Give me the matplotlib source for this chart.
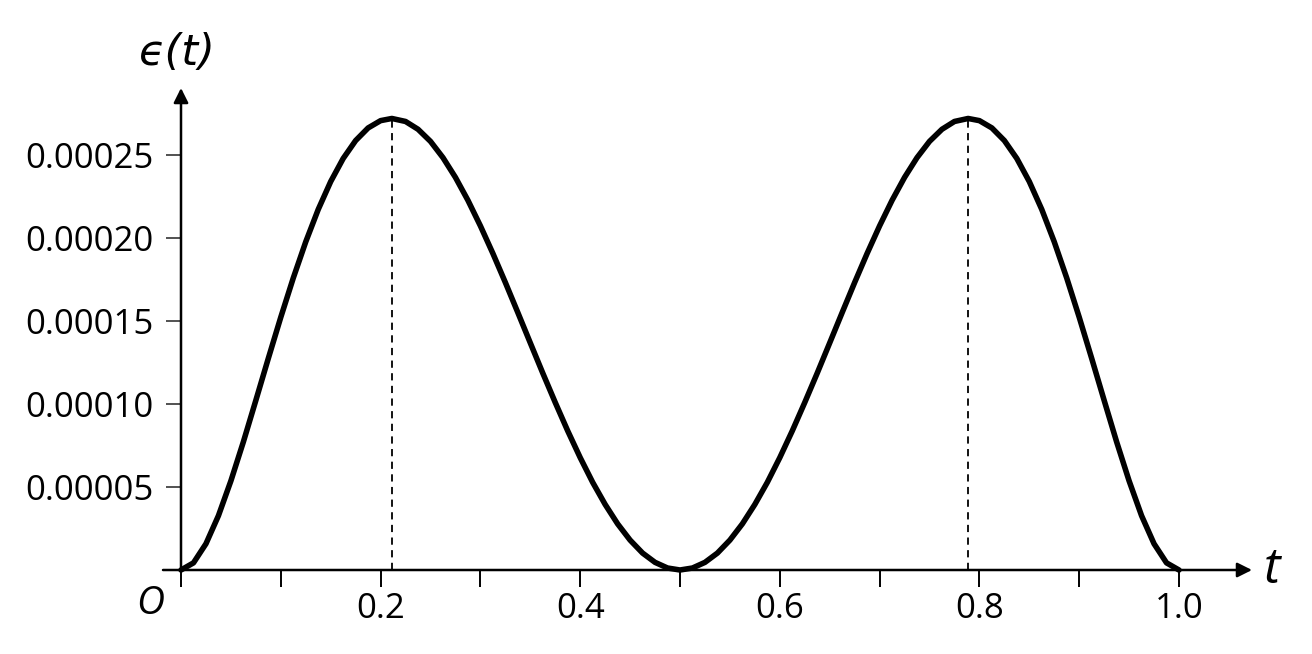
import matplotlib
matplotlib.use('Agg')
import matplotlib.pyplot as plt

# values
t = [0.0, 0.0125, 0.025, 0.0375, 0.05, 0.0625, 0.075, 0.0875, 0.1, 0.1125,
     0.125, 0.1375, 0.15, 0.1625, 0.175, 0.1875, 0.2, 0.2113, 0.225, 0.2375,
     0.25, 0.2625, 0.275, 0.2875, 0.3, 0.3125, 0.325, 0.3375, 0.35, 0.3625,
     0.375, 0.3875, 0.4, 0.4125, 0.425, 0.4375, 0.45, 0.4625, 0.475, 0.4875, 0.5,
     0.5125, 0.525, 0.5375, 0.55, 0.5625, 0.575, 0.5875, 0.6, 0.6125, 0.625,
     0.6375, 0.65, 0.6625, 0.675, 0.6875, 0.7, 0.7125, 0.725, 0.7375, 0.75,
     0.7625, 0.775, 0.7887, 0.8, 0.8125, 0.825, 0.8375, 0.85, 0.8625, 0.875,
     0.8875, 0.9, 0.9125, 0.925, 0.9375, 0.95, 0.9625, 0.975, 0.9875, 1.0]
eps = [0.0, 0.0000043, 0.0000158, 0.0000327, 0.0000537, 0.0000772, 0.0001022,
       0.0001275, 0.0001523, 0.0001759, 0.0001977, 0.0002172, 0.0002340, 0.0002479,
       0.0002587, 0.0002663, 0.0002707, 0.0002720, 0.0002702, 0.0002655, 0.0002582,
       0.0002484, 0.0002365, 0.0002227, 0.0002073, 0.0001907, 0.0001732, 0.0001551,
       0.0001368, 0.0001186, 0.0001009, 0.0000838, 0.0000677, 0.0000528, 0.0000395,
       0.0000278, 0.0000180, 0.0000102, 0.0000046, 0.0000012, 0.0,
       0.0000012, 0.0000046, 0.0000102, 0.0000180, 0.0000278, 0.0000395, 0.0000528,
       0.0000677, 0.0000838, 0.0001009, 0.0001186, 0.0001368, 0.0001551, 0.0001732,
       0.0001907, 0.0002073, 0.0002227, 0.0002365, 0.0002484, 0.0002582, 0.0002655,
       0.0002702, 0.0002720, 0.0002707, 0.0002663, 0.0002587, 0.0002479, 0.0002340,
       0.0002172, 0.0001977, 0.0001759, 0.0001523, 0.0001275, 0.0001022, 0.0000772,
       0.0000537, 0.0000327, 0.0000158, 0.0000043, 0.0]

peak_t = [0.2113, 0.7887]
peak_eps = [0.000272, 0.000272]

x_ticks = [0.0, 0.1, 0.2, 0.3, 0.4, 0.5, 0.6, 0.7, 0.8, 0.9, 1.0]
x_labels = ['', '', '0.2', '', '0.4', '', '0.6', '', '0.8', '', '1.0']
y_ticks = [0.00005, 0.00010, 0.00015, 0.00020, 0.00025]
y_labels = ['0.00005', '0.00010', '0.00015', '0.00020', '0.00025']

plt.rcParams['font.family'] = ['Open Sans', 'DejaVu Sans']

W, H = 1312, 654
fig = plt.figure(figsize=(W / 100, H / 100), dpi=100)
# axes from the origin (181, 570) to the arrow tips (1252, 88), in pixels
ax = fig.add_axes([181 / W, (H - 570) / H, (1252 - 181) / W, (570 - 88) / H])
ax.set_xlim(0, 1071 / 998)
ax.set_ylim(0, 482 / 415 * 0.00025)
for s in ax.spines.values():
    s.set_visible(False)

ax.plot(t, eps, color='black', lw=4.0, clip_on=False, solid_capstyle='round',
        solid_joinstyle='round', zorder=3)
ax.vlines(peak_t, 0, peak_eps, colors='black', linestyles=(0, (4, 3)), lw=1.3)

# axes with arrows
arrow = dict(arrowstyle='-|>', color='black', lw=1.8, mutation_scale=22, shrinkA=0, shrinkB=0)
ax.annotate('', xy=(1, 0), xytext=(-18 / 1071, 0), xycoords='axes fraction', arrowprops=arrow)
ax.annotate('', xy=(0, 1), xytext=(0, 0), xycoords='axes fraction', arrowprops=arrow)

ax.set_xticks(x_ticks)
ax.set_xticklabels(x_labels)
ax.set_yticks(y_ticks)
ax.set_yticklabels(y_labels)
ax.tick_params(axis='x', direction='out', length=12, width=1.4, pad=4, labelsize=25)
ax.tick_params(axis='y', direction='out', length=11, width=1.2, pad=9, labelsize=25, color='#333333')

ax.annotate('O', xy=(0, 0), xytext=(-31, -34), textcoords='offset pixels',
            ha='center', va='center', fontsize=28, style='italic')
ax.annotate('t', xy=(1, 0), xycoords='axes fraction', xytext=(20, 0), textcoords='offset pixels',
            ha='center', va='center', fontsize=36, style='italic')
ax.annotate('ϵ(t)', xy=(0, 1), xycoords='axes fraction', xytext=(-4, 35), textcoords='offset pixels',
            ha='center', va='center', fontsize=31, style='italic',
            family=['DejaVu Sans', 'Open Sans'])

fig.savefig('out.png', dpi=100)
